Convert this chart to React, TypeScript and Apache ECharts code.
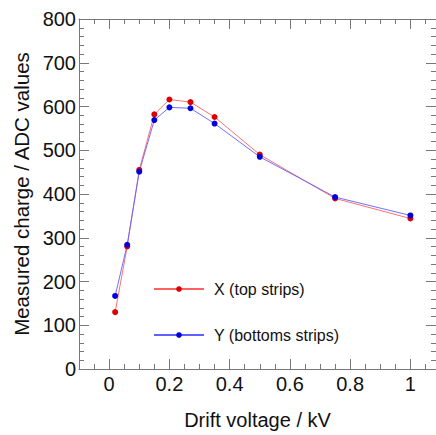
import React, { useEffect, useRef } from "react";
import * as echarts from "echarts";

const driftVoltage = [0.02, 0.06, 0.1, 0.15, 0.2, 0.27, 0.35, 0.5, 0.75, 1.0];
const xTopStrips = [130, 280, 455, 582, 616, 610, 576, 490, 390, 344];
const yBottomStrips = [167, 284, 451, 569, 598, 596, 561, 485, 393, 351];
const xMajorTicks = [0, 0.2, 0.4, 0.6, 0.8, 1.0];
const xMinorTicks = [-0.05, 0.05, 0.1, 0.15, 0.25, 0.3, 0.35, 0.45, 0.5, 0.55, 0.65, 0.7, 0.75, 0.85, 0.9, 0.95, 1.05];
const seriesNames = ["X (top strips)", "Y (bottoms strips)"];

const FONT = "Liberation Sans, Arial, Helvetica, sans-serif";
const FRAME = "#777";

export default function App() {
  const ref = useRef<HTMLDivElement>(null);
  useEffect(() => {
    if (!ref.current) return;
    const chart = echarts.init(ref.current, undefined, { renderer: "svg" });
    const xMin = -0.1;
    const xMax = 1.085;
    const fmt = (v: number) => (Math.abs(v - Math.round(v)) < 1e-9 ? String(Math.round(v)) : String(Math.round(v * 10) / 10));
    const baseX = (position: "top" | "bottom", ticks: number[], len: number, showLine: boolean, labels: boolean) => ({
      type: "value",
      position,
      min: xMin,
      max: xMax,
      splitLine: { show: false },
      axisLine: { show: showLine, onZero: false, lineStyle: { color: FRAME, width: 1 } },
      axisTick: { show: true, inside: true, length: len, customValues: ticks, lineStyle: { color: FRAME, width: 1 } },
      axisLabel: labels
        ? { show: true, customValues: ticks, formatter: fmt, fontSize: 20, fontFamily: FONT, color: "#111", margin: 5 }
        : { show: false },
    });
    const xAxes: any[] = [
      {
        ...baseX("bottom", xMajorTicks, 10, true, true),
        name: "Drift voltage / kV",
        nameLocation: "middle",
        nameGap: 41,
        nameTextStyle: { fontSize: 20, fontFamily: FONT, color: "#111" },
      },
      baseX("bottom", xMinorTicks, 5, false, false),
      baseX("top", xMajorTicks, 10, true, false),
      baseX("top", xMinorTicks, 5, false, false),
    ];
    const baseY = (position: "left" | "right", labels: boolean) => ({
      type: "value",
      position,
      min: 0,
      max: 800,
      interval: 100,
      splitLine: { show: false },
      axisLine: { show: true, onZero: false, lineStyle: { color: FRAME, width: 1 } },
      axisTick: { show: true, inside: true, length: 10, lineStyle: { color: FRAME, width: 1 } },
      minorTick: { show: true, splitNumber: 5, length: 5, lineStyle: { color: FRAME, width: 1 } },
      minorSplitLine: { show: false },
      axisLabel: labels
        ? { show: true, fontSize: 20, fontFamily: FONT, color: "#111", margin: 3 }
        : { show: false },
    });
    const yAxes: any[] = [
      {
        ...baseY("left", true),
        name: "Measured charge / ADC values",
        nameLocation: "middle",
        nameGap: 42,
        nameTextStyle: { fontSize: 20.5, fontFamily: FONT, color: "#111" },
      },
      baseY("right", false),
    ];
    chart.setOption({
      animation: false,
      backgroundColor: "#fff",
      grid: { left: 79, top: 19, width: 362, height: 356, containLabel: false },
      xAxis: xAxes,
      yAxis: yAxes,
      legend: {
        orient: "vertical",
        left: 153,
        top: 281,
        padding: 0,
        itemWidth: 50,
        itemHeight: 7,
        itemGap: 30,
        textStyle: { fontSize: 16, fontFamily: FONT, color: "#111", lineHeight: 16, padding: [0, 0, 0, 5] },
        data: seriesNames,
      },
      series: [
        {
          name: seriesNames[0],
          type: "line",
          xAxisIndex: 0,
          yAxisIndex: 0,
          symbol: "circle",
          symbolSize: 6,
          itemStyle: { color: "#dd0000" },
          lineStyle: { color: "#ff6060", width: 0.9 },
          data: driftVoltage.map((v, i) => [v, xTopStrips[i]]),
        },
        {
          name: seriesNames[1],
          type: "line",
          xAxisIndex: 0,
          yAxisIndex: 0,
          symbol: "circle",
          symbolSize: 6,
          itemStyle: { color: "#0000dd" },
          lineStyle: { color: "#6060ff", width: 0.9 },
          data: driftVoltage.map((v, i) => [v, yBottomStrips[i]]),
        },
      ],
    });
    return () => chart.dispose();
  }, []);
  return (
    <div
      ref={ref}
      style={{ position: "absolute", left: 0, top: 0, width: 436, height: 435 }}
    />
  );
}
